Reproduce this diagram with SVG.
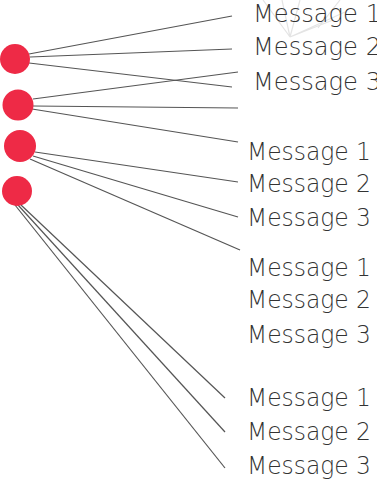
<svg xmlns="http://www.w3.org/2000/svg" width="377" height="479" viewBox="0 0 377 479">
  <style>
    .dot { fill: #ee2a46; }
    .link { stroke: #555; stroke-width: 1.2; fill: none; }
    .msg { font-family: "DejaVu Sans", "Liberation Sans", sans-serif; font-weight: 200; font-size: 24px; fill: #333; }
    .sketch { stroke: #e4e4e4; stroke-width: 1.2; fill: none; }
  </style>

  <!-- faint background doodle -->
  <g id="doodle">
    <path class="sketch" d="M263 0 L290 37 M282 0 L290 37 M300 0 L290 37 M290 37 L333 20 M290 37 L345 12 M340 0 L318 28"/>
  </g>

  <!-- connectors -->
  <g id="connectors">
    <line class="link" x1="29" y1="54" x2="232" y2="16"/>
    <line class="link" x1="30" y1="57" x2="232" y2="49"/>
    <line class="link" x1="29" y1="63" x2="232" y2="87"/>

    <line class="link" x1="33" y1="99" x2="238" y2="72"/>
    <line class="link" x1="33" y1="106" x2="238" y2="108"/>
    <line class="link" x1="32" y1="109" x2="238" y2="142"/>

    <line class="link" x1="35" y1="152" x2="238" y2="182"/>
    <line class="link" x1="33" y1="156" x2="238" y2="217"/>
    <line class="link" x1="30" y1="159" x2="240" y2="250"/>

    <line class="link" x1="15" y1="205" x2="225" y2="468"/>
    <line class="link" x1="18" y1="205" x2="225" y2="432"/>
    <line class="link" x1="21" y1="205" x2="225" y2="398"/>
  </g>

  <!-- nodes -->
  <g id="node-1"><circle class="dot" cx="15" cy="59" r="15"/></g>
  <g id="node-2"><circle class="dot" cx="18" cy="105" r="15.5"/></g>
  <g id="node-3"><circle class="dot" cx="20" cy="146" r="16"/></g>
  <g id="node-4"><circle class="dot" cx="17" cy="191" r="15"/></g>

  <!-- message labels -->
  <g id="labels-1">
    <text class="msg" x="253" y="22" textLength="128" lengthAdjust="spacingAndGlyphs">Message 1</text>
    <text class="msg" x="253" y="55" textLength="128" lengthAdjust="spacingAndGlyphs">Message 2</text>
    <text class="msg" x="253" y="90" textLength="128" lengthAdjust="spacingAndGlyphs">Message 3</text>
  </g>
  <g id="labels-2">
    <text class="msg" x="247" y="160" textLength="124" lengthAdjust="spacingAndGlyphs">Message 1</text>
    <text class="msg" x="247" y="192" textLength="124" lengthAdjust="spacingAndGlyphs">Message 2</text>
    <text class="msg" x="247" y="226" textLength="124" lengthAdjust="spacingAndGlyphs">Message 3</text>
  </g>
  <g id="labels-3">
    <text class="msg" x="247" y="276" textLength="124" lengthAdjust="spacingAndGlyphs">Message 1</text>
    <text class="msg" x="247" y="308" textLength="124" lengthAdjust="spacingAndGlyphs">Message 2</text>
    <text class="msg" x="247" y="343" textLength="124" lengthAdjust="spacingAndGlyphs">Message 3</text>
  </g>
  <g id="labels-4">
    <text class="msg" x="247" y="406" textLength="124" lengthAdjust="spacingAndGlyphs">Message 1</text>
    <text class="msg" x="247" y="440" textLength="124" lengthAdjust="spacingAndGlyphs">Message 2</text>
    <text class="msg" x="247" y="474" textLength="124" lengthAdjust="spacingAndGlyphs">Message 3</text>
  </g>
</svg>
